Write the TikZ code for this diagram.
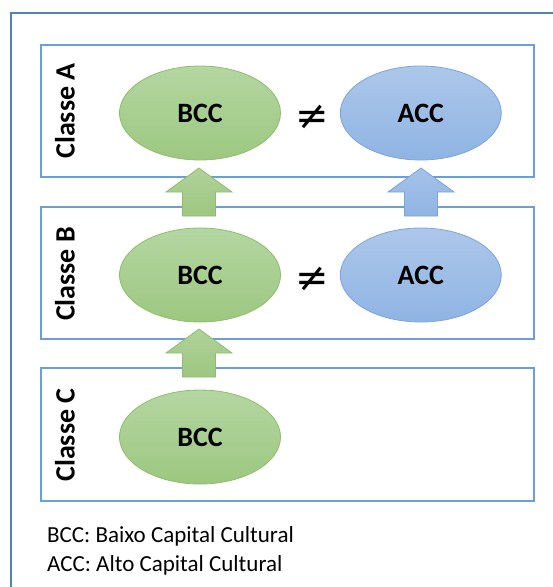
\documentclass[tikz,border=0pt]{standalone}
\usepackage{fontspec}
\setmainfont{Carlito}
\newfontfamily\symbolfont{DejaVu Sans}
\usetikzlibrary{shapes.geometric,positioning}

\definecolor{greentop}{HTML}{B4D6A2}
\definecolor{greenbot}{HTML}{9DC780}
\definecolor{greenline}{HTML}{8CBF6B}
\definecolor{bluetop}{HTML}{ADC7EA}
\definecolor{bluebot}{HTML}{8FB4E3}
\definecolor{blueline}{HTML}{7BA5DA}
\definecolor{boxline}{HTML}{6A9FD9}
\definecolor{outerline}{HTML}{5182BD}

\tikzset{
  classbox/.style={draw=boxline, line width=1.2pt, minimum width=493pt, minimum height=132pt, inner sep=0pt},
  classlabel/.style={rotate=90, font=\bfseries\fontsize{28}{30}\selectfont},
  bcc/.style={ellipse, draw=greenline, line width=0.8pt, top color=greentop, bottom color=greenbot,
    minimum width=161pt, minimum height=94pt, font=\bfseries\fontsize{28}{30}\selectfont},
  acc/.style={bcc, draw=blueline, top color=bluetop, bottom color=bluebot},
  neqsign/.style={inner sep=0pt, font=\symbolfont\fontsize{40}{40}\selectfont},
  legend/.style={anchor=base west, inner sep=0pt, font=\fontsize{23}{26}\selectfont},
  pics/blockup/.style args={#1/#2}{code={
    \draw[draw=#2, line width=0.8pt, top color=#1!80, bottom color=#1]
      (-16.5,48) -- (-16.5,24) -- (-33,24) -- (0,0) -- (33,24) -- (16.5,24) -- (16.5,48) -- cycle;
  }}
}

\begin{document}
\begin{tikzpicture}[x=1pt, y=-1pt]
\useasboundingbox (0,0) rectangle (553,587);
\begin{scope}
\clip (0,0) rectangle (553,587);
\draw[outerline, line width=1.5pt] (11,13) rectangle (600,640);
\end{scope}

% the three classes
\node[classbox] (boxA) at (287.5,111) {};
\node[classbox] (boxB) at (287.5,273) {};
\node[classbox, minimum height=133pt] (boxC) at (287.5,434.5) {};

\node[classlabel] (labA) at (65,111) {Classe A};
\node[classlabel] (labB) at (65,274) {Classe B};
\node[classlabel] (labC) at (65,435) {Classe C};

\node[bcc] (bccA) at (200,113) {BCC};
\node[acc, right=59pt of bccA] (accA) {ACC};
\node[neqsign] (neqA) at (312,117.5) {≠};

\node[bcc] (bccB) at (200,275) {BCC};
\node[acc, right=59pt of bccB] (accB) {ACC};
\node[neqsign] (neqB) at (312,279.5) {≠};

\node[bcc] (bccC) at (200,437) {BCC};

% arrows between classes
\pic (upBA) at (199,168) {blockup={greenbot/greenline}};
\pic (upBA2) at (421,168) {blockup={bluebot/blueline}};
\pic (upCB) at (199,329) {blockup={greenbot/greenline}};

\node[legend] (legB) at (47,542) {BCC: Baixo Capital Cultural};
\node[legend] (legA) at (47,571) {ACC: Alto Capital Cultural};
\end{tikzpicture}
\end{document}
